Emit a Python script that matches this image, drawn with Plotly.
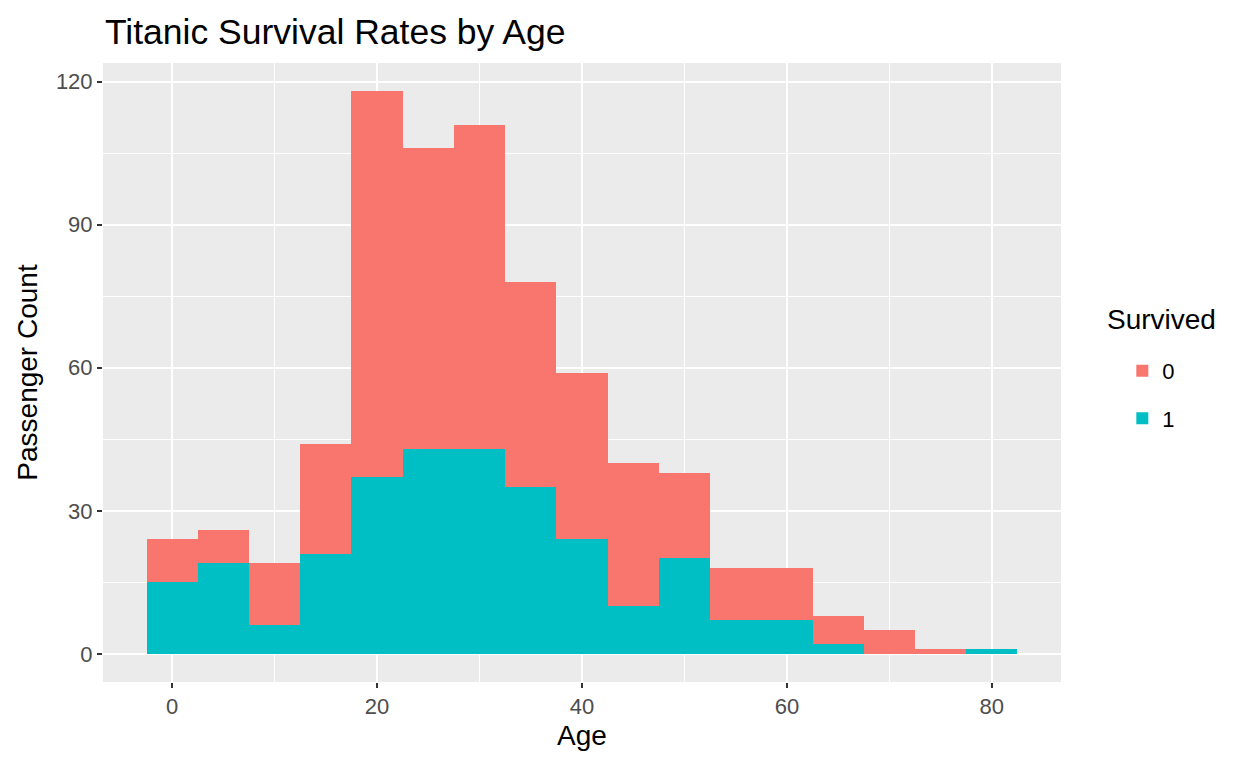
import plotly.graph_objects as go

# -------------------------------------------------
# Data (bins of width 5)
# -------------------------------------------------

age_bins = [0, 5, 10, 15, 20, 25, 30, 35, 40, 45, 50, 55, 60, 65, 70, 75, 80]
survived_1 = [15, 19, 6, 21, 37, 43, 43, 35, 24, 10, 20, 7, 7, 2, 0, 0, 1]
survived_0 = [9, 7, 13, 23, 81, 63, 68, 43, 35, 30, 18, 11, 11, 6, 5, 1, 0]

bin_width = 5
colors = {"0": "#F8766D", "1": "#00BFC4"}
font_name = "Liberation Sans"

# -------------------------------------------------
# Figure
# -------------------------------------------------

fig = go.Figure()

fig.add_trace(go.Bar(
    x=age_bins,
    y=survived_1,
    width=bin_width,
    name="1",
    legendgroup="g1",
    legendrank=2,
    marker=dict(color=colors["1"], line=dict(width=0)),
))

fig.add_trace(go.Bar(
    x=age_bins,
    y=survived_0,
    width=bin_width,
    name="0",
    legendgroup="g0",
    legendrank=1,
    marker=dict(color=colors["0"], line=dict(width=0)),
))

axis_common = dict(
    showgrid=True,
    gridcolor="white",
    gridwidth=2,
    zeroline=False,
    showline=False,
    ticks="outside",
    ticklen=5,
    tickwidth=2,
    tickcolor="#333333",
    tickfont=dict(family=font_name, size=22, color="#4D4D4D"),
)

fig.update_xaxes(
    **axis_common,
    range=[-6.75, 86.75],
    tickmode="linear",
    tick0=0,
    dtick=20,
    minor=dict(showgrid=True, gridcolor="white", gridwidth=1, dtick=10, tick0=0),
    title=dict(text="Age", font=dict(family=font_name, size=28, color="black"), standoff=6),
)

fig.update_yaxes(
    **axis_common,
    range=[-5.9, 123.9],
    tickmode="linear",
    tick0=0,
    dtick=30,
    minor=dict(showgrid=True, gridcolor="white", gridwidth=1, dtick=15, tick0=0),
    title=dict(text="Passenger Count", font=dict(family=font_name, size=28, color="black"), standoff=10),
)

# legend title as a separate annotation so the item spacing can follow the reference
fig.add_annotation(
    text="Survived",
    xref="paper",
    yref="paper",
    x=1.046,
    xanchor="left",
    y=0.585,
    yanchor="middle",
    showarrow=False,
    font=dict(family=font_name, size=28, color="black"),
)

fig.update_layout(
    width=1240,
    height=760,
    barmode="stack",
    bargap=0,
    plot_bgcolor="#EBEBEB",
    paper_bgcolor="white",
    margin=dict(l=95, r=187, t=55, b=86),
    title=dict(
        text="Titanic Survival Rates by Age",
        font=dict(family=font_name, size=35.5, color="black"),
        x=97 / 1240,
        xanchor="left",
        y=1 - 24 / 760,
        yanchor="middle",
    ),
    legend=dict(
        font=dict(family=font_name, size=22, color="black"),
        traceorder="grouped",
        tracegroupgap=16,
        x=1.064,
        xanchor="left",
        y=0.5365,
        yanchor="top",
        bgcolor="white",
    ),
)

fig.write_html("out.html")
